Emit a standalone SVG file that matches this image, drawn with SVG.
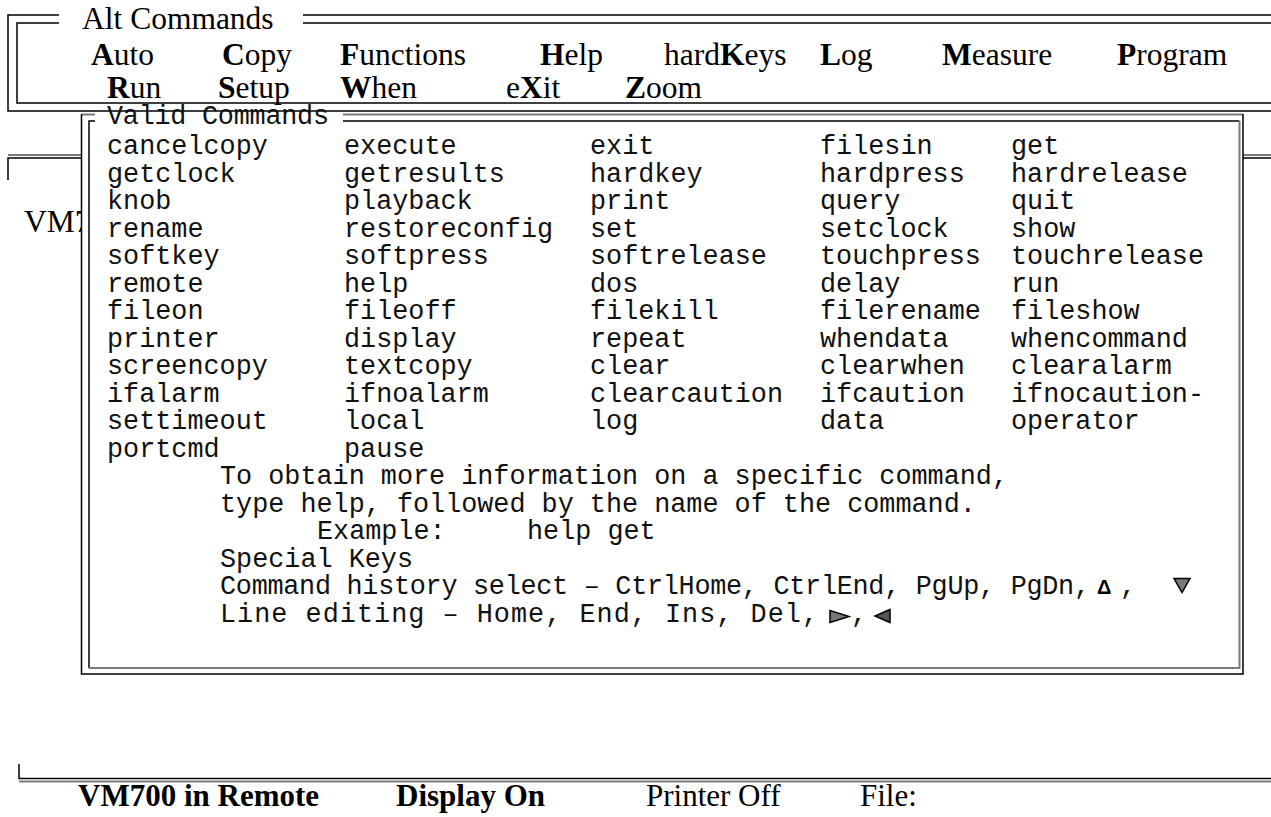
<svg xmlns="http://www.w3.org/2000/svg" width="1271" height="817" viewBox="0 0 1271 817">
<style>
.m{font-family:"Liberation Mono","Courier New",monospace;font-size:26.8px;fill:#111}
.t{font-family:"Liberation Serif","Times New Roman",serif;font-size:31.5px;fill:#000}
.s{font-size:31px}
.b{font-weight:bold}
.k{fill:none;stroke:#000;stroke-width:1.5}
.g{fill:none;stroke:#7a7a7a;stroke-width:2}
</style>
<rect x="0" y="0" width="1271" height="817" fill="#fff"/>

<g id="background-window">
  <path class="g" d="M8,155 H1275"/>
  <path class="k" d="M8,180 V158 H1275"/>
  <text class="t" x="24" y="232">VM7</text>
</g>

<g id="alt-commands">
  <path class="k" d="M59,15 H8 V111 H1275"/>
  <path class="k" d="M59,23 H17 V103 H1275"/>
  <path class="k" d="M303,15 H1275 M303,23 H1275"/>
  <text class="t" x="82" y="29">Alt Commands</text>
  <text class="t" x="91" y="65"><tspan class="b">A</tspan>uto</text>
  <text class="t" x="222" y="65"><tspan class="b">C</tspan>opy</text>
  <text class="t" x="340" y="65"><tspan class="b">F</tspan>unctions</text>
  <text class="t" x="540" y="65"><tspan class="b">H</tspan>elp</text>
  <text class="t" x="664" y="65">hard<tspan class="b">K</tspan>eys</text>
  <text class="t" x="820" y="65"><tspan class="b">L</tspan>og</text>
  <text class="t" x="942" y="65"><tspan class="b">M</tspan>easure</text>
  <text class="t" x="1117" y="65"><tspan class="b">P</tspan>rogram</text>
  <text class="t" x="107" y="98"><tspan class="b">R</tspan>un</text>
  <text class="t" x="218" y="98"><tspan class="b">S</tspan>etup</text>
  <text class="t" x="340" y="98"><tspan class="b">W</tspan>hen</text>
  <text class="t" x="506" y="98">e<tspan class="b">X</tspan>it</text>
  <text class="t" x="625" y="98"><tspan class="b">Z</tspan>oom</text>
</g>

<g id="valid-commands">
  <rect x="81.5" y="114.5" width="1161.5" height="559.5" fill="#fff"/>
  <path class="g" d="M95,114.5 H81.5 M343,114.5 H1243"/>
  <path class="k" d="M81.5,114 V674 H1243 V114"/>
  <path class="k" d="M95,121 H89 V668 M343,121 H1239.5"/>
  <path class="g" d="M89,668 H1239.5 V121"/>
  <text class="m" x="107" y="124" font-size="25.5" textLength="222" lengthAdjust="spacing">Valid Commands</text>
  <g id="cmd-table">
    <text class="m" y="154"><tspan x="107">cancelcopy</tspan><tspan x="344">execute</tspan><tspan x="590">exit</tspan><tspan x="820">filesin</tspan><tspan x="1011">get</tspan></text>
    <text class="m" y="181.5"><tspan x="107">getclock</tspan><tspan x="344">getresults</tspan><tspan x="590">hardkey</tspan><tspan x="820">hardpress</tspan><tspan x="1011">hardrelease</tspan></text>
    <text class="m" y="209"><tspan x="107">knob</tspan><tspan x="344">playback</tspan><tspan x="590">print</tspan><tspan x="820">query</tspan><tspan x="1011">quit</tspan></text>
    <text class="m" y="236.5"><tspan x="107">rename</tspan><tspan x="344">restoreconfig</tspan><tspan x="590">set</tspan><tspan x="820">setclock</tspan><tspan x="1011">show</tspan></text>
    <text class="m" y="264"><tspan x="107">softkey</tspan><tspan x="344">softpress</tspan><tspan x="590">softrelease</tspan><tspan x="820">touchpress</tspan><tspan x="1011">touchrelease</tspan></text>
    <text class="m" y="291.5"><tspan x="107">remote</tspan><tspan x="344">help</tspan><tspan x="590">dos</tspan><tspan x="820">delay</tspan><tspan x="1011">run</tspan></text>
    <text class="m" y="319"><tspan x="107">fileon</tspan><tspan x="344">fileoff</tspan><tspan x="590">filekill</tspan><tspan x="820">filerename</tspan><tspan x="1011">fileshow</tspan></text>
    <text class="m" y="346.5"><tspan x="107">printer</tspan><tspan x="344">display</tspan><tspan x="590">repeat</tspan><tspan x="820">whendata</tspan><tspan x="1011">whencommand</tspan></text>
    <text class="m" y="374"><tspan x="107">screencopy</tspan><tspan x="344">textcopy</tspan><tspan x="590">clear</tspan><tspan x="820">clearwhen</tspan><tspan x="1011">clearalarm</tspan></text>
    <text class="m" y="401.5"><tspan x="107">ifalarm</tspan><tspan x="344">ifnoalarm</tspan><tspan x="590">clearcaution</tspan><tspan x="820">ifcaution</tspan><tspan x="1011">ifnocaution-</tspan></text>
    <text class="m" y="429"><tspan x="107">settimeout</tspan><tspan x="344">local</tspan><tspan x="590">log</tspan><tspan x="820">data</tspan><tspan x="1011">operator</tspan></text>
    <text class="m" y="456.5"><tspan x="107">portcmd</tspan><tspan x="344">pause</tspan></text>
  </g>
  <g id="help-text">
    <text class="m" x="220" y="484">To obtain more information on a specific command,</text>
    <text class="m" x="220" y="511.5">type help, followed by the name of the command.</text>
    <text class="m" y="539"><tspan x="317">Example:</tspan><tspan x="527">help get</tspan></text>
    <text class="m" x="220" y="566.5">Special Keys</text>
    <text class="m" x="220" y="594" textLength="870" lengthAdjust="spacing">Command history select – CtrlHome, CtrlEnd, PgUp, PgDn,</text>
    <text x="1097" y="594" font-family="Liberation Sans, Arial, sans-serif" font-size="20" font-weight="bold">Δ</text>
    <text class="m" x="1120" y="594">,</text>
    <polygon points="1174,578.5 1190,578.5 1182,592.5" fill="#777" stroke="#000" stroke-width="1.5"/>
    <text class="m" x="220" y="621.5" textLength="598" lengthAdjust="spacing">Line editing – Home, End, Ins, Del,</text>
    <polygon points="830,610.5 830,622.5 849,616.5" fill="#777" stroke="#000" stroke-width="1.5"/>
    <text class="m" x="851" y="621.5">,</text>
    <polygon points="890,609.5 890,622.5 875,616" fill="#555" stroke="#000" stroke-width="1.5"/>
  </g>
</g>

<g id="status-bar">
  <path class="k" d="M19,764 V778.5 H1275"/>
  <path class="g" d="M19,781.5 H1275"/>
  <text class="t s b" x="78" y="806">VM700 in Remote</text>
  <text class="t s b" x="396" y="806">Display On</text>
  <text class="t s" x="646" y="806">Printer Off</text>
  <text class="t s" x="860" y="806">File:</text>
</g>
</svg>
